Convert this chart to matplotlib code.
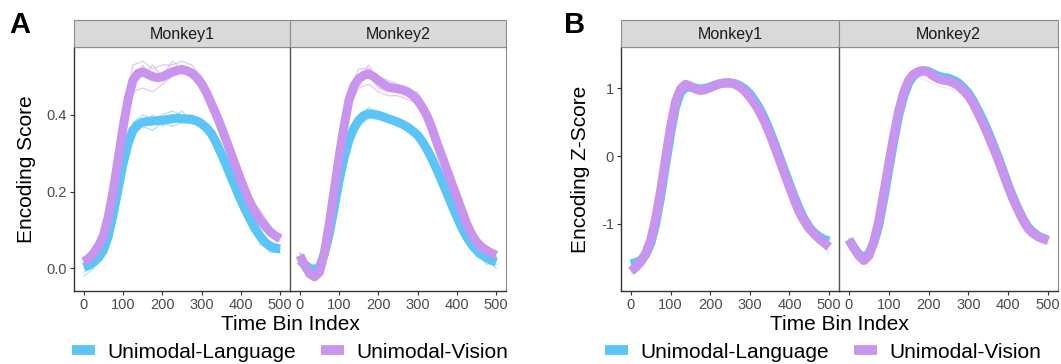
import matplotlib
matplotlib.use("Agg")
import matplotlib.pyplot as plt
from matplotlib.lines import Line2D
from matplotlib.patches import Rectangle

plt.rcParams['font.family'] = ['Liberation Sans', 'DejaVu Sans']
plt.rcParams['axes.unicode_minus'] = False

## Data
monkeys = ["Monkey1", "Monkey2"]
groups = ["Unimodal-Language", "Unimodal-Vision"]

# smoothed curves, time bins every 12.5
smooth_bins = [0, 12.5, 25, 37.5, 50, 62.5, 75, 87.5, 100, 112.5, 125, 137.5, 150, 162.5, 175, 187.5, 200,
               212.5, 225, 237.5, 250, 262.5, 275, 287.5, 300, 312.5, 325, 337.5, 350, 362.5, 375, 387.5, 400,
               412.5, 425, 437.5, 450, 462.5, 475, 487.5, 500]
# individual runs, time bins every 25
run_bins = [0, 25, 50, 75, 100, 125, 150, 175, 200, 225, 250, 275, 300, 325, 350, 375, 400, 425, 450, 475, 500]

# Panel A: encoding score, smoothed mean
a_m1_lang = [0.003, 0.008, 0.016, 0.028, 0.047, 0.085, 0.142, 0.208, 0.273, 0.325, 0.360, 0.374, 0.381, 0.383, 0.384, 0.385, 0.386,
             0.388, 0.390, 0.391, 0.390, 0.389, 0.388, 0.384, 0.377, 0.366, 0.351, 0.327, 0.299, 0.269, 0.238, 0.207, 0.177,
             0.150, 0.125, 0.102, 0.082, 0.067, 0.057, 0.052, 0.051]
a_m1_vis = [0.017, 0.026, 0.038, 0.058, 0.086, 0.135, 0.203, 0.285, 0.368, 0.440, 0.490, 0.508, 0.512, 0.506, 0.500, 0.497, 0.499,
            0.506, 0.512, 0.516, 0.518, 0.515, 0.509, 0.497, 0.481, 0.458, 0.429, 0.400, 0.368, 0.334, 0.299, 0.264, 0.229,
            0.197, 0.168, 0.145, 0.125, 0.109, 0.095, 0.085, 0.077]
a_m2_lang = [0.021, 0.010, 0.000, -0.005, 0.003, 0.038, 0.090, 0.158, 0.229, 0.287, 0.334, 0.365, 0.386, 0.398, 0.403, 0.402, 0.399,
             0.395, 0.390, 0.386, 0.381, 0.375, 0.368, 0.358, 0.347, 0.330, 0.308, 0.283, 0.255, 0.225, 0.195, 0.164, 0.134,
             0.106, 0.082, 0.062, 0.047, 0.036, 0.028, 0.021, 0.016]
a_m2_vis = [0.034, 0.008, -0.014, -0.022, -0.010, 0.040, 0.116, 0.203, 0.290, 0.370, 0.438, 0.475, 0.494, 0.503, 0.507, 0.500, 0.490,
            0.480, 0.473, 0.470, 0.468, 0.465, 0.460, 0.451, 0.438, 0.419, 0.395, 0.362, 0.325, 0.290, 0.255, 0.220, 0.186,
            0.150, 0.116, 0.089, 0.069, 0.056, 0.047, 0.040, 0.034]

# Panel A: individual runs
a_m1_lang_runs = [
    [-0.01, 0.01, 0.04, 0.15, 0.29, 0.38, 0.40, 0.39, 0.40, 0.41, 0.40, 0.40, 0.39, 0.36, 0.30, 0.24, 0.17, 0.10, 0.07, 0.05, 0.04],
    [0.00, 0.02, 0.05, 0.13, 0.26, 0.35, 0.37, 0.36, 0.38, 0.37, 0.38, 0.38, 0.37, 0.34, 0.29, 0.23, 0.18, 0.13, 0.09, 0.06, 0.05],
    [0.01, 0.02, 0.06, 0.14, 0.28, 0.37, 0.39, 0.38, 0.39, 0.40, 0.39, 0.39, 0.38, 0.35, 0.31, 0.25, 0.19, 0.12, 0.06, 0.07, 0.06],
    [-0.02, 0.00, 0.05, 0.14, 0.27, 0.36, 0.38, 0.40, 0.37, 0.39, 0.41, 0.38, 0.38, 0.34, 0.30, 0.24, 0.18, 0.11, 0.08, 0.04, 0.05],
]
a_m1_vis_runs = [
    [0.02, 0.05, 0.09, 0.22, 0.40, 0.53, 0.54, 0.52, 0.53, 0.53, 0.54, 0.53, 0.50, 0.44, 0.37, 0.29, 0.22, 0.16, 0.14, 0.10, 0.08],
    [0.03, 0.04, 0.08, 0.19, 0.35, 0.46, 0.47, 0.46, 0.48, 0.50, 0.51, 0.50, 0.48, 0.43, 0.36, 0.30, 0.23, 0.17, 0.12, 0.09, 0.07],
    [0.01, 0.03, 0.10, 0.21, 0.38, 0.50, 0.53, 0.49, 0.51, 0.52, 0.53, 0.51, 0.47, 0.41, 0.37, 0.31, 0.24, 0.18, 0.15, 0.11, 0.08],
    [0.02, 0.06, 0.08, 0.20, 0.37, 0.49, 0.50, 0.53, 0.50, 0.54, 0.52, 0.52, 0.49, 0.42, 0.35, 0.30, 0.23, 0.17, 0.13, 0.09, 0.09],
]
a_m2_lang_runs = [
    [0.02, 0.00, 0.01, 0.09, 0.24, 0.35, 0.40, 0.41, 0.40, 0.39, 0.38, 0.37, 0.35, 0.31, 0.26, 0.20, 0.13, 0.07, 0.04, 0.02, 0.01],
    [0.02, 0.01, 0.00, 0.08, 0.22, 0.32, 0.37, 0.39, 0.39, 0.38, 0.38, 0.36, 0.34, 0.30, 0.25, 0.19, 0.14, 0.09, 0.05, 0.03, 0.02],
    [0.03, 0.00, 0.01, 0.10, 0.23, 0.34, 0.39, 0.42, 0.40, 0.39, 0.37, 0.37, 0.35, 0.31, 0.26, 0.20, 0.12, 0.08, 0.03, 0.03, 0.00],
    [0.01, -0.01, 0.02, 0.09, 0.23, 0.33, 0.38, 0.40, 0.41, 0.38, 0.39, 0.36, 0.34, 0.32, 0.25, 0.20, 0.13, 0.07, 0.05, 0.01, 0.02],
]
a_m2_vis_runs = [
    [0.03, -0.01, 0.01, 0.12, 0.30, 0.46, 0.52, 0.52, 0.50, 0.49, 0.48, 0.47, 0.45, 0.40, 0.33, 0.26, 0.19, 0.12, 0.07, 0.05, 0.04],
    [0.04, 0.00, 0.00, 0.11, 0.28, 0.42, 0.47, 0.48, 0.46, 0.45, 0.45, 0.44, 0.43, 0.39, 0.32, 0.25, 0.18, 0.11, 0.07, 0.04, 0.03],
    [0.03, -0.01, 0.02, 0.12, 0.29, 0.44, 0.50, 0.51, 0.47, 0.46, 0.47, 0.46, 0.44, 0.38, 0.33, 0.27, 0.19, 0.12, 0.08, 0.05, 0.03],
    [0.04, 0.01, 0.01, 0.11, 0.29, 0.45, 0.49, 0.53, 0.49, 0.47, 0.46, 0.45, 0.46, 0.41, 0.32, 0.26, 0.18, 0.13, 0.06, 0.05, 0.04],
]

# Panel B: encoding z-score, smoothed mean
b_m1_lang = [-1.59, -1.57, -1.54, -1.45, -1.29, -1.00, -0.60, -0.13, 0.33, 0.72, 0.94, 1.01, 1.02, 1.00, 0.99, 1.00, 1.02,
             1.05, 1.07, 1.08, 1.08, 1.07, 1.04, 0.99, 0.92, 0.82, 0.70, 0.55, 0.38, 0.19, -0.01, -0.21, -0.41,
             -0.60, -0.78, -0.93, -1.05, -1.13, -1.19, -1.23, -1.25]
b_m1_vis = [-1.70, -1.64, -1.56, -1.43, -1.24, -0.92, -0.51, -0.03, 0.43, 0.80, 0.99, 1.06, 1.03, 0.99, 0.97, 0.98, 1.01,
            1.04, 1.07, 1.08, 1.08, 1.06, 1.02, 0.96, 0.87, 0.77, 0.65, 0.50, 0.33, 0.14, -0.06, -0.26, -0.46,
            -0.65, -0.83, -0.96, -1.07, -1.15, -1.22, -1.28, -1.34]
b_m2_lang = [-1.23, -1.35, -1.45, -1.50, -1.44, -1.28, -1.02, -0.63, -0.20, 0.22, 0.60, 0.88, 1.08, 1.19, 1.24, 1.26, 1.25,
             1.21, 1.18, 1.16, 1.15, 1.12, 1.08, 1.01, 0.93, 0.81, 0.67, 0.52, 0.35, 0.17, -0.02, -0.22, -0.43,
             -0.61, -0.78, -0.93, -1.05, -1.12, -1.18, -1.21, -1.24]
b_m2_vis = [-1.23, -1.36, -1.47, -1.54, -1.47, -1.26, -0.95, -0.54, -0.11, 0.30, 0.67, 0.94, 1.12, 1.21, 1.25, 1.26, 1.24,
            1.18, 1.14, 1.12, 1.11, 1.08, 1.04, 0.97, 0.89, 0.77, 0.62, 0.47, 0.30, 0.12, -0.06, -0.26, -0.46,
            -0.64, -0.80, -0.95, -1.07, -1.14, -1.19, -1.22, -1.25]

# Panel B: individual runs
b_m1_lang_runs = [
    [-1.55, -1.50, -1.25, -0.58, 0.35, 0.98, 1.12, 1.05, 1.08, 1.10, 1.12, 1.08, 0.95, 0.72, 0.40, 0.00, -0.40, -0.76, -1.02, -1.18, -1.22],
    [-1.62, -1.57, -1.32, -0.62, 0.30, 0.92, 1.00, 0.98, 1.00, 1.05, 1.06, 1.02, 0.90, 0.68, 0.36, -0.03, -0.43, -0.80, -1.08, -1.20, -1.28],
    [-1.60, -1.52, -1.28, -0.60, 0.34, 0.95, 1.06, 1.00, 1.04, 1.08, 1.10, 1.05, 0.93, 0.71, 0.39, -0.01, -0.40, -0.78, -0.98, -1.17, -1.24],
]
b_m1_vis_runs = [
    [-1.75, -1.60, -1.30, -0.55, 0.40, 1.00, 1.02, 0.92, 0.96, 1.03, 1.05, 1.00, 0.85, 0.60, 0.30, -0.10, -0.50, -0.85, -1.10, -1.25, -1.40],
    [-1.65, -1.50, -1.20, -0.45, 0.46, 1.02, 1.08, 1.02, 1.05, 1.10, 1.10, 1.05, 0.90, 0.68, 0.36, -0.03, -0.44, -0.80, -1.02, -1.20, -1.30],
    [-1.72, -1.58, -1.26, -0.52, 0.42, 0.96, 0.98, 0.90, 0.99, 1.05, 1.07, 1.00, 0.84, 0.62, 0.32, -0.07, -0.47, -0.84, -1.00, -1.24, -1.45],
]
b_m2_lang_runs = [
    [-1.22, -1.42, -1.40, -1.00, -0.18, 0.62, 1.12, 1.32, 1.30, 1.22, 1.18, 1.10, 0.95, 0.68, 0.36, -0.01, -0.42, -0.77, -1.04, -1.17, -1.25],
    [-1.25, -1.46, -1.46, -1.03, -0.22, 0.58, 1.06, 1.22, 1.23, 1.16, 1.13, 1.06, 0.92, 0.66, 0.34, -0.03, -0.44, -0.79, -1.06, -1.19, -1.30],
    [-1.21, -1.44, -1.42, -1.01, -0.19, 0.61, 1.10, 1.28, 1.27, 1.20, 1.16, 1.09, 0.94, 0.69, 0.36, -0.02, -0.43, -0.78, -1.03, -1.16, -1.22],
]
b_m2_vis_runs = [
    [-1.25, -1.45, -1.40, -0.93, -0.10, 0.65, 1.05, 1.15, 1.10, 1.02, 1.00, 0.95, 0.82, 0.58, 0.28, -0.08, -0.48, -0.82, -1.08, -1.20, -1.27],
    [-1.20, -1.48, -1.45, -0.96, -0.12, 0.68, 1.10, 1.22, 1.20, 1.10, 1.06, 1.00, 0.86, 0.60, 0.30, -0.05, -0.45, -0.80, -1.06, -1.18, -1.24],
    [-1.22, -1.50, -1.43, -0.94, -0.14, 0.66, 1.08, 1.18, 1.16, 1.08, 1.05, 0.98, 0.80, 0.55, 0.27, -0.07, -0.47, -0.81, -1.09, -1.21, -1.30],
]

x_ticks = [0, 100, 200, 300, 400, 500]
a_yticks = [0.0, 0.2, 0.4]
a_yticklabels = ["0.0", "0.2", "0.4"]
b_yticks = [-1, 0, 1]
b_yticklabels = ["-1", "0", "1"]

col_lang = "#5BC5F8"
col_vis = "#C894EE"

W, H = 1061, 364
fig = plt.figure(figsize=(W / 100, H / 100), dpi=100)


def px_axes(x0, y0, x1, y1):
    # pixel box (top-left origin) -> figure axes
    return fig.add_axes([x0 / W, 1 - y1 / H, (x1 - x0) / W, (y1 - y0) / H])


def draw_facet(x0, x1, lang, vis, lang_runs, vis_runs, ylim, yticks, yticklabels, title, first, run_alpha):
    ax = px_axes(x0, 47, x1, 291)
    for r in lang_runs:
        ax.plot(run_bins, r, color=col_lang, lw=0.9, alpha=run_alpha)
    for r in vis_runs:
        ax.plot(run_bins, r, color=col_vis, lw=0.9, alpha=run_alpha)
    ax.plot(smooth_bins, lang, color=col_lang, lw=6.5, solid_capstyle="butt", solid_joinstyle="round")
    ax.plot(smooth_bins, vis, color=col_vis, lw=6.5, solid_capstyle="butt", solid_joinstyle="round")
    ax.set_xlim(-25, 525)
    ax.set_ylim(*ylim)
    ax.set_xticks(x_ticks)
    ax.set_xticklabels([str(t) for t in x_ticks])
    ax.set_yticks(yticks)
    if first:
        ax.set_yticklabels(yticklabels)
        ax.tick_params(axis="y", length=3, width=0.8, color="#333333", labelsize=10.5, labelcolor="#4D4D4D", pad=2)
    else:
        ax.tick_params(axis="y", length=0, labelleft=False)
    ax.tick_params(axis="x", length=3, width=0.8, color="#333333", labelsize=10.5, labelcolor="#4D4D4D", pad=2)
    ax.spines["left"].set_color("#333333" if first else "#555555")
    ax.spines["left"].set_linewidth(1.0)
    ax.spines["bottom"].set_color("#333333")
    ax.spines["bottom"].set_linewidth(1.0)
    ax.spines["top"].set_color("#444444")
    ax.spines["top"].set_linewidth(0.8)
    ax.spines["right"].set_color("#8C8C8C")
    ax.spines["right"].set_linewidth(0.8)
    # strip
    sx = px_axes(x0, 20, x1, 47)
    sx.set_xlim(0, 1)
    sx.set_ylim(0, 1)
    sx.axis("off")
    sx.add_patch(Rectangle((0, 0), 1, 1, facecolor="#D9D9D9", edgecolor="#8C8C8C", lw=0.8, transform=sx.transAxes, clip_on=False))
    sx.text(0.5, 0.48, title, ha="center", va="center", fontsize=11.5, color="#1A1A1A")
    return ax


# Panel A
draw_facet(74, 290, a_m1_lang, a_m1_vis, a_m1_lang_runs, a_m1_vis_runs, (-0.059, 0.577), a_yticks, a_yticklabels, monkeys[0], True, 0.5)
draw_facet(290, 506, a_m2_lang, a_m2_vis, a_m2_lang_runs, a_m2_vis_runs, (-0.059, 0.577), a_yticks, a_yticklabels, monkeys[1], False, 0.5)

# Panel B
draw_facet(621, 839, b_m1_lang, b_m1_vis, b_m1_lang_runs, b_m1_vis_runs, (-1.99, 1.61), b_yticks, b_yticklabels, monkeys[0], True, 0.22)
draw_facet(839, 1058, b_m2_lang, b_m2_vis, b_m2_lang_runs, b_m2_vis_runs, (-1.99, 1.61), b_yticks, b_yticklabels, monkeys[1], False, 0.22)

# axis titles
fig.text(290 / W, 1 - 324 / H, "Time Bin Index", ha="center", va="center", fontsize=15)
fig.text(839 / W, 1 - 324 / H, "Time Bin Index", ha="center", va="center", fontsize=15)
fig.text(27 / W, 1 - 169 / H, "Encoding Score", ha="center", va="center", rotation=90, fontsize=15)
fig.text(580 / W, 1 - 169 / H, "Encoding Z-Score", ha="center", va="center", rotation=90, fontsize=15)

# panel letters
fig.text(9 / W, 1 - 25 / H, "A", ha="left", va="center", fontsize=21, fontweight="bold")
fig.text(564 / W, 1 - 25 / H, "B", ha="left", va="center", fontsize=21, fontweight="bold")

# legends
handles = [Line2D([0], [0], color=col_lang, lw=7, solid_capstyle="butt"),
           Line2D([0], [0], color=col_vis, lw=7, solid_capstyle="butt")]
for cx in [290, 823]:
    fig.legend(handles, groups, loc="center", bbox_to_anchor=(cx / W, 1 - 352 / H), ncol=2,
               frameon=False, fontsize=15, handlelength=1.1, handletextpad=0.6,
               columnspacing=1.2, borderpad=0, borderaxespad=0)

fig.savefig("out.png", dpi=100)
